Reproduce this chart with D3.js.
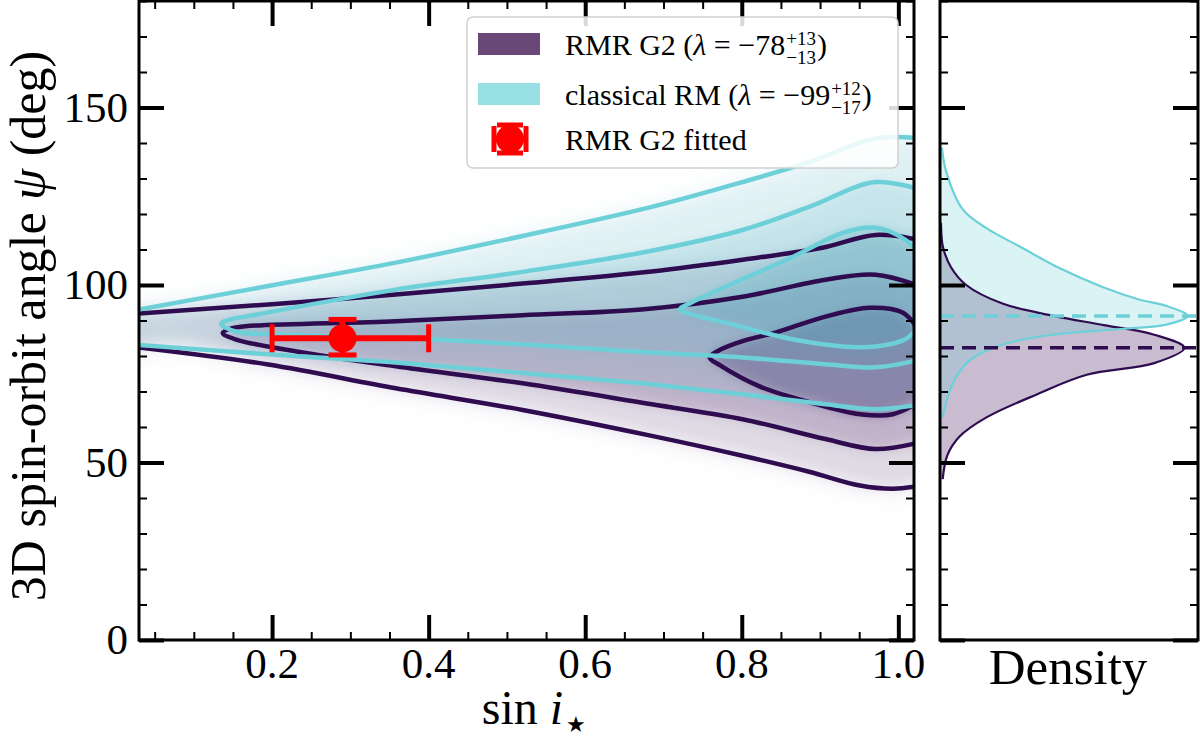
<!DOCTYPE html>
<html lang="en">
<head>
<meta charset="utf-8">
<title>3D spin-orbit angle</title>
<script src="https://cdn.jsdelivr.net/npm/d3@7"></script>
<style>
  body { margin: 0; background: #fff; }
  text { font-family: "Liberation Serif", "DejaVu Serif", "Times New Roman", serif; fill: #000; }
</style>
</head>
<body>
<script>
// contour lines, points are [sin i, psi (deg)]
var purpleOuterTop = [[0.03,92.0],[0.20,94.6],[0.358,97.3],[0.52,100.4],[0.685,103.8],[0.801,107.1],[0.903,110.5],[0.971,114.1],[1.03,112.5]];
var purpleOuterBot = [[0.03,82.4],[0.195,77.6],[0.358,70.9],[0.52,64.8],[0.685,57.5],[0.801,51.9],[0.886,47.4],[0.951,43.5],[0.993,42.6],[1.03,43.5]];
var purpleMiddle = [[1.03,99.5],[0.971,102.9],[0.907,101.5],[0.801,96.7],[0.672,93.1],[0.52,91.5],[0.358,89.8],[0.166,88.4],[0.148,87.8],[0.137,86.5],[0.153,84.7],[0.239,81.0],[0.358,77.1],[0.52,72.3],[0.685,66.4],[0.801,62.2],[0.907,56.6],[0.971,53.8],[1.03,55.8]];
var purpleInner = [[1.03,86.0],[1.006,92.2],[0.963,93.6],[0.907,91.1],[0.843,86.6],[0.801,84.2],[0.77,81.5],[0.759,79.6],[0.772,77.4],[0.822,71.5],[0.886,67.0],[0.951,63.6],[0.993,63.6],[1.03,67.5]];

var cyanOuterTop = [[0.03,93.1],[0.195,99.7],[0.358,106.3],[0.52,113.8],[0.685,122.0],[0.801,129.0],[0.886,134.6],[0.971,141.3],[1.03,141.3]];
var cyanOuterBot = [[0.03,83.1],[0.195,80.5],[0.358,78.2],[0.52,75.2],[0.685,72.0],[0.801,69.2],[0.907,66.4],[0.971,65.0],[1.03,66.4]];
var cyanMiddle = [[1.03,126.7],[0.971,129.0],[0.886,122.0],[0.801,115.5],[0.672,109.1],[0.52,103.7],[0.358,98.7],[0.166,91.1],[0.145,90.2],[0.135,89.1],[0.153,86.9],[0.204,86.1],[0.401,84.7],[0.685,81.0],[0.801,79.6],[0.907,77.7],[0.971,76.8],[1.03,79.1]];
var cyanInner = [[1.03,108.0],[1.009,112.7],[0.971,116.1],[0.929,114.7],[0.865,107.9],[0.779,99.5],[0.735,95.0],[0.721,93.1],[0.74,91.5],[0.779,89.4],[0.865,84.7],[0.929,82.7],[0.971,82.7],[1.009,84.7],[1.03,89.5]];

// fitted point with asymmetric error bars
var fitX = 0.29, fitXlo = 0.2, fitXhi = 0.4;
var fitY = 85, fitYlo = 80.3, fitYhi = 90.3;

// marginal densities (psi in deg, density scaled to peak)
var purpleDensPsi = [117.5,114,110.7,105,100,94.7,91.3,88.7,86,82.3,78,74.7,69.3,62.7,57.3,52,45.3];
var purpleDens    = [0.004,0.006,0.012,0.045,0.107,0.258,0.464,0.67,0.876,1.0,0.876,0.6,0.4,0.19,0.08,0.03,0.011];
var cyanDensPsi = [138.7,132,121.3,116,110.7,104.7,99.3,96,94,91.3,88.9,87.6,86,83.3,78.7,72,62.7];
var cyanDens    = [0.008,0.025,0.093,0.19,0.33,0.49,0.67,0.81,0.93,1.013,0.93,0.74,0.46,0.26,0.12,0.05,0.01];
var purplePeak = 82.3, cyanPeak = 91.3;

var xTicks = [0.2, 0.4, 0.6, 0.8, 1.0];
var xMinor = d3.range(1, 21).map(function(i) { return i * 0.05; });
var yTicks = [0, 50, 100, 150];
var yMinor = d3.range(0, 19).map(function(i) { return i * 10; });

var purple = "#2e0c4f", cyan = "#6dd0d8", red = "#ff0000";

var w = 1200, h = 743;
var svg = d3.select("body").append("svg").attr("width", w).attr("height", h);

var x = d3.scaleLinear().domain([0.03, 1.02]).range([139, 914]);
var y = d3.scaleLinear().domain([0, 180]).range([640, 1]);
var xs = d3.scaleLinear().domain([0, 1.055]).range([940, 1198]);

var defs = svg.append("defs");
defs.append("clipPath").attr("id", "mainClip").append("rect")
    .attr("x", 139).attr("y", 1).attr("width", 914 - 139).attr("height", 639);
defs.append("clipPath").attr("id", "sideClip").append("rect")
    .attr("x", 940).attr("y", 1).attr("width", 260).attr("height", 639);
[["blurS", 6], ["blurL", 14]].forEach(function(f) {
  defs.append("filter").attr("id", f[0])
      .attr("x", "-30%").attr("y", "-30%").attr("width", "160%").attr("height", "160%")
      .append("feGaussianBlur").attr("stdDeviation", f[1]);
});

var contourLine = d3.line()
    .x(function(d) { return x(d[0]); })
    .y(function(d) { return y(d[1]); })
    .curve(d3.curveCatmullRom.alpha(0.5));

var loopLine = d3.line()
    .x(function(d) { return x(d[0]); })
    .y(function(d) { return y(d[1]); })
    .curve(d3.curveCatmullRomClosed.alpha(0.5));

// polygon for an open-ended contour: extend past the frame so the fill has no gap
function outerPoly(top, bot) {
  var t = top.slice(), b = bot.slice();
  return [[-0.1, t[0][1]]].concat(t, [[1.12, t[t.length - 1][1]], [1.12, b[b.length - 1][1]]], b.reverse(), [[-0.1, b[0][1]]]);
}
function loopPoly(pts) {
  var first = pts[0], last = pts[pts.length - 1];
  return pts.concat([[1.12, last[1]], [1.12, first[1]]]);
}

// ---- main panel shading ----
var shade = svg.append("g").attr("clip-path", "url(#mainClip)");

function shading(color, outer, middle, inner, ops) {
  var g = shade.append("g");
  g.append("path").attr("d", loopLine(outer)).attr("fill", color)
      .attr("opacity", ops[0]).attr("filter", "url(#blurL)");
  var gs = g.append("g").attr("filter", "url(#blurS)");
  gs.append("path").attr("d", loopLine(outer)).attr("fill", color).attr("opacity", ops[1]);
  gs.append("path").attr("d", loopLine(middle)).attr("fill", color).attr("opacity", ops[2]);
  gs.append("path").attr("d", loopLine(inner)).attr("fill", color).attr("opacity", ops[3]);
}
shading("rgb(75,35,105)", outerPoly(purpleOuterTop, purpleOuterBot), loopPoly(purpleMiddle), loopPoly(purpleInner), [0.09, 0.1, 0.19, 0.36]);
shading("rgb(75,175,195)", outerPoly(cyanOuterTop, cyanOuterBot), loopPoly(cyanMiddle), loopPoly(cyanInner), [0.08, 0.1, 0.18, 0.28]);

// ---- contour lines ----
var lines = svg.append("g").attr("clip-path", "url(#mainClip)")
    .attr("fill", "none").attr("stroke-width", 4.5).attr("stroke-linejoin", "round");
[purpleOuterTop, purpleOuterBot, purpleMiddle, purpleInner].forEach(function(c) {
  lines.append("path").attr("d", contourLine(c)).attr("stroke", purple);
});
[cyanOuterTop, cyanOuterBot, cyanMiddle, cyanInner].forEach(function(c) {
  lines.append("path").attr("d", contourLine(c)).attr("stroke", cyan);
});

// ---- fitted point ----
var eb = svg.append("g").attr("stroke", red).attr("fill", red);
eb.append("line").attr("x1", x(fitXlo)).attr("x2", x(fitXhi)).attr("y1", y(fitY)).attr("y2", y(fitY)).attr("stroke-width", 6);
eb.append("line").attr("x1", x(fitX)).attr("x2", x(fitX)).attr("y1", y(fitYlo)).attr("y2", y(fitYhi)).attr("stroke-width", 6);
[fitXlo, fitXhi].forEach(function(v) {
  eb.append("line").attr("x1", x(v)).attr("x2", x(v)).attr("y1", y(fitY) - 14).attr("y2", y(fitY) + 14).attr("stroke-width", 5);
});
[fitYlo, fitYhi].forEach(function(v) {
  eb.append("line").attr("x1", x(fitX) - 14).attr("x2", x(fitX) + 14).attr("y1", y(v)).attr("y2", y(v)).attr("stroke-width", 5);
});
eb.append("circle").attr("cx", x(fitX)).attr("cy", y(fitY)).attr("r", 14).attr("stroke", "none");

// ---- side panel densities ----
var side = svg.append("g").attr("clip-path", "url(#sideClip)");
function dens(psi, d) { return psi.map(function(p, i) { return [p, d[i]]; }); }
var densArea = d3.area()
    .y(function(d) { return y(d[0]); })
    .x0(xs(0))
    .x1(function(d) { return xs(d[1]); })
    .curve(d3.curveCatmullRom.alpha(0.5));
var densLine = d3.line()
    .y(function(d) { return y(d[0]); })
    .x(function(d) { return xs(d[1]); })
    .curve(d3.curveCatmullRom.alpha(0.5));
var pd = dens(purpleDensPsi, purpleDens), cd = dens(cyanDensPsi, cyanDens);
side.append("path").attr("d", densArea(pd)).attr("fill", "rgb(60,15,85)").attr("fill-opacity", 0.28);
side.append("path").attr("d", densArea(cd)).attr("fill", "rgb(108,207,216)").attr("fill-opacity", 0.25);
side.append("path").attr("d", densLine(pd)).attr("fill", "none").attr("stroke", purple).attr("stroke-width", 2.2);
side.append("path").attr("d", densLine(cd)).attr("fill", "none").attr("stroke", cyan).attr("stroke-width", 2.2);
svg.append("line").attr("x1", xs(0)).attr("x2", 1200).attr("y1", y(cyanPeak)).attr("y2", y(cyanPeak))
    .attr("stroke", cyan).attr("stroke-width", 3.5).attr("stroke-dasharray", "14,8");
svg.append("line").attr("x1", xs(0)).attr("x2", 1200).attr("y1", y(purplePeak)).attr("y2", y(purplePeak))
    .attr("stroke", purple).attr("stroke-width", 3.5).attr("stroke-dasharray", "14,8");

// ---- axes: inward ticks on every side ----
function ticks(axis, tx, ty, values, size, sw) {
  var g = svg.append("g").attr("transform", "translate(" + tx + "," + ty + ")")
      .call(axis.tickValues(values).tickSize(-size).tickFormat(""));
  g.select(".domain").remove();
  g.selectAll(".tick line").attr("stroke", "#000").attr("stroke-width", sw);
}
var yMinorOnly = yMinor.filter(function(v) { return yTicks.indexOf(v) < 0; });
var xMinorOnly = xMinor.filter(function(v) { return Math.abs(v * 5 - Math.round(v * 5)) > 1e-6 && v > 0.03; });

[[139, 914], [940, 1198]].forEach(function(p) {
  ticks(d3.axisLeft(y), p[0], 0, yTicks, 25, 4);
  ticks(d3.axisLeft(y), p[0], 0, yMinorOnly, 8, 2);
  ticks(d3.axisRight(y), p[1], 0, yTicks, 25, 4);
  ticks(d3.axisRight(y), p[1], 0, yMinorOnly, 8, 2);
});
ticks(d3.axisBottom(x), 0, 640, xTicks, 25, 4);
ticks(d3.axisBottom(x), 0, 640, xMinorOnly, 8, 2);
ticks(d3.axisTop(x), 0, 1, xTicks, 25, 4);
ticks(d3.axisTop(x), 0, 1, xMinorOnly, 8, 2);

svg.append("rect").attr("x", 139).attr("y", 1).attr("width", 914 - 139).attr("height", 639)
    .attr("fill", "none").attr("stroke", "#000").attr("stroke-width", 3);
svg.append("rect").attr("x", 940).attr("y", 1).attr("width", 258).attr("height", 639)
    .attr("fill", "none").attr("stroke", "#000").attr("stroke-width", 3);

// tick labels
svg.append("g").selectAll("text").data(yTicks).enter().append("text")
    .attr("x", 128).attr("y", function(d) { return y(d); }).attr("dy", "0.33em")
    .attr("text-anchor", "end").attr("font-size", 43)
    .text(function(d) { return d; });
svg.append("g").selectAll("text").data(xTicks).enter().append("text")
    .attr("x", function(d) { return x(d); }).attr("y", 678)
    .attr("text-anchor", "middle").attr("font-size", 43)
    .text(function(d) { return d.toFixed(1); });

// axis titles
var xl = svg.append("text").attr("x", 534).attr("y", 724).attr("text-anchor", "middle").attr("font-size", 48);
xl.append("tspan").text("sin ");
xl.append("tspan").attr("font-style", "italic").text("i");
xl.append("tspan").attr("font-size", 22).attr("dy", 8).attr("dx", 3).text("★");

var yl = svg.append("text").attr("transform", "translate(45,326) rotate(-90)")
    .attr("text-anchor", "middle").attr("font-size", 50);
yl.append("tspan").text("3D spin-orbit angle ");
yl.append("tspan").attr("font-style", "italic").text("ψ");
yl.append("tspan").text(" (deg)");

svg.append("text").attr("x", 1068).attr("y", 684).attr("text-anchor", "middle")
    .attr("font-size", 51).text("Density");

// ---- legend ----
var legendNames = ["RMR G2 (", "classical RM ("];
var legendVals = ["−78", "−99"];
var legendUp = ["+13", "+12"];
var legendDown = ["−13", "−17"];
var legendFill = ["#694878", "#98dfe4"];
var fittedLabel = "RMR G2 fitted";

var lg = svg.append("g");
lg.append("rect").attr("x", 467).attr("y", 17).attr("width", 431).attr("height", 151).attr("rx", 6)
    .attr("fill", "#fff").attr("fill-opacity", 0.85).attr("stroke", "#d0d0d0").attr("stroke-width", 1.5);
legendNames.forEach(function(name, i) {
  var base = 55 + i * 50;
  lg.append("rect").attr("x", 478).attr("y", base - 22).attr("width", 62).attr("height", 22).attr("fill", legendFill[i]);
  var t = lg.append("text").attr("x", 565).attr("y", base).attr("font-size", 30);
  t.append("tspan").text(name);
  t.append("tspan").attr("font-style", "italic").text("λ");
  t.append("tspan").text(" = " + legendVals[i]);
  var end = 565 + t.node().getComputedTextLength() + 1;
  var up = lg.append("text").attr("x", end).attr("y", base - 10).attr("font-size", 19).text(legendUp[i]);
  var dn = lg.append("text").attr("x", end).attr("y", base + 9).attr("font-size", 19).text(legendDown[i]);
  var sw = Math.max(up.node().getComputedTextLength(), dn.node().getComputedTextLength());
  lg.append("text").attr("x", end + sw + 1).attr("y", base).attr("font-size", 30).text(")");
});
var lm = lg.append("g").attr("stroke", red).attr("fill", red);
lm.append("line").attr("x1", 494).attr("x2", 526).attr("y1", 139).attr("y2", 139).attr("stroke-width", 6);
lm.append("line").attr("x1", 510).attr("x2", 510).attr("y1", 124).attr("y2", 154).attr("stroke-width", 6);
lm.append("line").attr("x1", 494).attr("x2", 494).attr("y1", 126).attr("y2", 152).attr("stroke-width", 5);
lm.append("line").attr("x1", 526).attr("x2", 526).attr("y1", 126).attr("y2", 152).attr("stroke-width", 5);
lm.append("line").attr("x1", 497).attr("x2", 523).attr("y1", 125).attr("y2", 125).attr("stroke-width", 5);
lm.append("line").attr("x1", 497).attr("x2", 523).attr("y1", 153).attr("y2", 153).attr("stroke-width", 5);
lm.append("circle").attr("cx", 510).attr("cy", 139).attr("r", 14).attr("stroke", "none");
lg.append("text").attr("x", 565).attr("y", 150).attr("font-size", 30).text(fittedLabel);
</script>
</body>
</html>
